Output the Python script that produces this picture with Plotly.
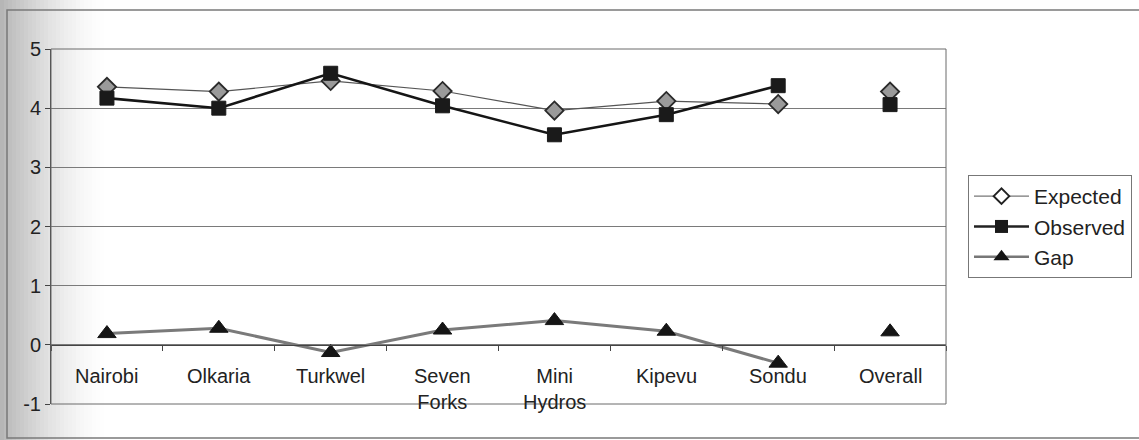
import plotly.graph_objects as go

# Survey scores per power station
stations = ["Nairobi", "Olkaria", "Turkwel", "Seven Forks", "Mini Hydros",
            "Kipevu", "Sondu", "Overall"]
station_labels = ["Nairobi", "Olkaria", "Turkwel", "Seven<br>Forks", "Mini<br>Hydros",
                  "Kipevu", "Sondu", "Overall"]
expected = [4.36, 4.28, 4.46, 4.29, 3.96, 4.12, 4.07, 4.28]
observed = [4.17, 4.00, 4.59, 4.04, 3.55, 3.89, 4.38, 4.06]
gap = [0.19, 0.28, -0.13, 0.25, 0.41, 0.23, -0.31, 0.22]
y_ticks = [-1, 0, 1, 2, 3, 4, 5]
y_tick_text = ["-1", "0", "1", "2", "3", "4", "5"]

FONT = "Liberation Sans, Arial, sans-serif"
TXT = "#222222"

W, H = 1139, 440
L, R, T, B = 51, 193, 49, 36
PW, PH = W - L - R, H - T - B


def px_x(p):
    return (p - L) / PW


def px_y(p):
    return (H - B - p) / PH


styles = {
    "Expected": dict(line=dict(color="#555555", width=1.2),
                     marker=dict(symbol="diamond", size=14, color="#9a9a9a",
                                 line=dict(color="#2a2a2a", width=1.8))),
    "Observed": dict(line=dict(color="#151515", width=2.6),
                     marker=dict(symbol="square", size=14, color="#1a1a1a",
                                 line=dict(color="#1a1a1a", width=1))),
    "Gap": dict(line=dict(color="#7a7a7a", width=3),
                marker=dict(symbol="triangle-up", size=16, color="#151515",
                            line=dict(color="#151515", width=1))),
}
series = {"Expected": expected, "Observed": observed, "Gap": gap}

fig = go.Figure()
for name, vals in series.items():
    st = styles[name]
    # stations joined by a line, the overall score stands alone
    fig.add_trace(go.Scatter(x=stations[:-1], y=vals[:-1], mode="lines+markers",
                             line=st["line"], marker=st["marker"],
                             showlegend=False, hoverinfo="x+y", name=name))
    fig.add_trace(go.Scatter(x=stations[-1:], y=vals[-1:], mode="markers",
                             marker=st["marker"], showlegend=False, name=name))

# legend keys
legend_markers = {
    "Expected": dict(symbol="diamond", size=12, color="white",
                     line=dict(color="#222222", width=2)),
    "Observed": dict(symbol="square", size=13, color="#1a1a1a"),
    "Gap": dict(symbol="triangle-up", size=14, color="#151515"),
}
legend_lines = {
    "Expected": dict(color="#777777", width=1.2),
    "Observed": dict(color="#222222", width=2.4),
    "Gap": dict(color="#777777", width=2.4),
}
for name in series:
    fig.add_trace(go.Scatter(x=[None], y=[None], mode="lines+markers", name=name,
                             line=legend_lines[name], marker=legend_markers[name]))

annotations = [
    dict(x=s, y=-0.3, xref="x", yref="y", text=lab, showarrow=False,
         yanchor="top", xanchor="center", align="center",
         font=dict(family=FONT, size=20, color=TXT))
    for s, lab in zip(stations, station_labels)
]

shapes = []
# soft shading along the left edge of the sheet
n_strips = 26
for i in range(n_strips):
    a = 0.5 * (1 - i / n_strips) ** 1.5
    shapes.append(dict(type="rect", xref="paper", yref="paper",
                       x0=px_x(i * 4), x1=px_x(i * 4 + 4), y0=px_y(440), y1=px_y(0),
                       fillcolor=f"rgba(110,110,110,{a:.3f})", line=dict(width=0),
                       layer="below"))
# outer chart frame
shapes.append(dict(type="rect", xref="paper", yref="paper",
                   x0=px_x(7), x1=px_x(1145), y0=px_y(438), y1=px_y(10),
                   line=dict(color="#7a7a7a", width=1.5), fillcolor="rgba(0,0,0,0)"))
# plot area border
shapes.append(dict(type="rect", xref="paper", yref="paper", x0=0, x1=1, y0=0, y1=1,
                   line=dict(color="#6a6a6a", width=1), fillcolor="rgba(0,0,0,0)"))

fig.update_layout(
    width=W, height=H, autosize=False,
    margin=dict(l=L, r=R, t=T, b=B, pad=0, autoexpand=False),
    paper_bgcolor="white", plot_bgcolor="rgba(0,0,0,0)",
    font=dict(family=FONT, size=19, color=TXT),
    xaxis=dict(type="category", categoryorder="array", categoryarray=stations,
               range=[-0.5, 7.5], anchor="free", position=1 / 6,
               showline=True, linecolor="#444444", linewidth=1,
               ticks="outside", ticklen=5, tickcolor="#444444", tickson="boundaries",
               showticklabels=False, showgrid=False, zeroline=False),
    yaxis=dict(range=[-1, 5], tickvals=y_ticks, ticktext=y_tick_text,
               showgrid=True, gridcolor="#7a7a7a",
               gridwidth=1, zeroline=False, showline=True, linecolor="#444444",
               linewidth=1, ticks="outside", ticklen=5, tickcolor="#444444",
               ticklabelstandoff=0, tickfont=dict(family=FONT, size=20, color=TXT)),
    legend=dict(x=px_x(968), y=px_y(175), xanchor="left", yanchor="top",
                bgcolor="white", bordercolor="#777777", borderwidth=1,
                font=dict(family=FONT, size=21, color=TXT),
                tracegroupgap=0, itemwidth=55),
    annotations=annotations,
    shapes=shapes,
    showlegend=True,
)

fig.write_html("out.html")
